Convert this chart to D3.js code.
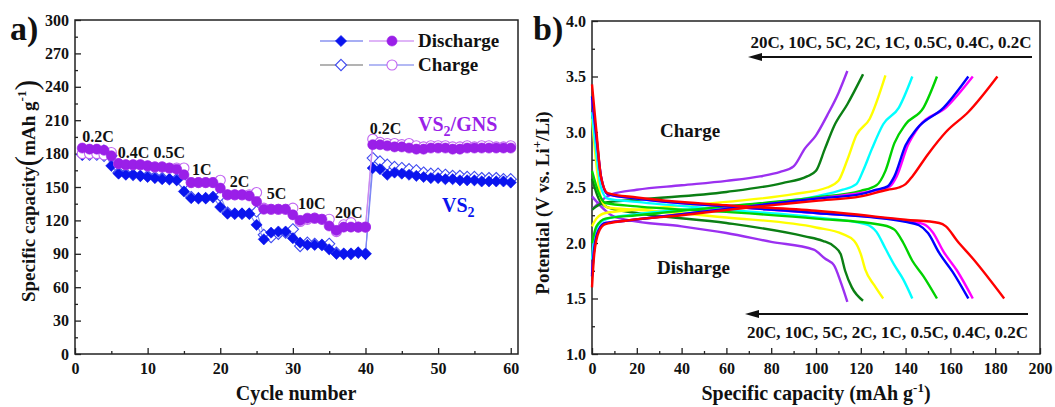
<!DOCTYPE html>
<html>
<head>
<meta charset="utf-8">
<script src="https://cdn.jsdelivr.net/npm/d3@7"></script>
<style>
  body { margin: 0; background: #fff; }
  svg text { font-family: "Liberation Serif", "Times New Roman", serif; font-weight: bold; }
</style>
</head>
<body>
<div id="chart"></div>
<script>
// ---- data: panel a (rate capability), one value per cycle starting at cycle 1
var gnsDischarge = [185,184,184,183,178, 171,170,170,170,169, 168,168,167,166,161,
  154,154,154,154,149, 143,143,143,142,137, 130,130,130,130,125, 120,122,122,121,115,
  111,114,114,114,114, 188,188,187,186,186, 185,184,184,185,185, 185,184,184,185,185,
  185,185,185,185,185];
var gnsCharge = [180,180,180,179,181, 171,170,170,170,169, 168,168,167,167,167,
  154,154,154,154,156, 143,143,143,143,145, 131,130,130,130,131, 119,121,122,121,121,
  110,116,118,114,114, 193,190,189,189,188, 189,187,186,187,187, 187,186,186,187,186,
  187,187,186,186,187];
var vs2Discharge = [179,181,181,183,169, 162,161,161,160,159, 158,157,157,156,146,
  140,140,140,141,132, 126,126,126,126,116, 103,109,110,110,104, 100,98,98,98,94,
  90,90,90,91,90, 167,166,161,163,162, 161,160,159,158,158, 157,157,156,156,156,
  155,155,155,155,154];
var vs2Charge = [179,179,179,178,178, 163,162,161,160,160, 159,158,157,157,153,
  141,140,140,141,142, 127,126,126,126,128, 107,105,108,109,112, 97,100,99,98,99,
  91,90,90,91,90, 176,173,170,168,167, 166,165,163,162,162, 161,160,160,159,159,
  158,158,158,157,157];

var rateLabels = ["0.2C","0.4C","0.5C","1C","2C","5C","10C","20C","0.2C"];
var rateLabelCycle = [1.0, 5.9, 10.8, 16.1, 21.3, 26.4, 30.7, 35.8, 40.6];
var rateLabelValue = [190, 176, 176, 161, 150, 139, 130, 122, 198];

// ---- data: panel b (charge/discharge profiles), [capacity, potential]
var profileRates = ["0.2C","0.4C","0.5C","1C","2C","5C","10C","20C"];
var profileColors = ["#ff0000","#ff00ff","#0000ff","#00d200","#00ffff","#ffff00","#0b7f14","#9b30f0"];
var dischargeCurves = [
  [[0,3.43],[2,3.0],[4,2.6],[7,2.45],[20,2.41],[60,2.34],[100,2.29],[140,2.21],[155,2.18],[158,2.15],[163,2.02],[170,1.86],[184,1.5]],
  [[0,3.3],[2,2.95],[4,2.6],[7,2.44],[20,2.4],[60,2.33],[100,2.27],[140,2.2],[148,2.17],[152,2.1],[157,1.92],[163,1.75],[170,1.5]],
  [[0,3.32],[2,2.95],[4,2.6],[7,2.44],[20,2.4],[60,2.33],[100,2.27],[140,2.19],[146,2.16],[150,2.09],[155,1.91],[161,1.74],[168,1.5]],
  [[0,2.65],[3,2.45],[6,2.36],[20,2.33],[60,2.28],[100,2.22],[130,2.16],[135,2.12],[139,2.0],[143,1.84],[148,1.7],[154,1.5]],
  [[0,3.18],[2,2.8],[4,2.5],[7,2.4],[20,2.37],[60,2.3],[100,2.23],[122,2.17],[127,2.1],[131,1.95],[135,1.8],[139,1.67],[143,1.5]],
  [[0,3.12],[2,2.7],[4,2.4],[7,2.32],[20,2.3],[60,2.23],[100,2.14],[112,2.08],[117,2.02],[120,1.9],[122,1.76],[126,1.62],[130,1.5]],
  [[0,2.58],[3,2.4],[7,2.32],[20,2.27],[60,2.18],[95,2.06],[103,2.02],[108,1.97],[111,1.9],[113,1.75],[116,1.6],[121,1.48]],
  [[0,2.42],[4,2.33],[8,2.26],[15,2.21],[40,2.15],[60,2.09],[80,2.01],[99,1.94],[104,1.86],[108,1.8],[111,1.65],[114,1.47]]
];
var chargeCurves = [
  [[0,1.6],[1,1.9],[3,2.1],[6,2.17],[15,2.2],[40,2.25],[70,2.32],[100,2.38],[120,2.42],[132,2.48],[137,2.5],[140,2.53],[143,2.6],[150,2.8],[158,3.0],[168,3.18],[181,3.5]],
  [[0,1.72],[1,1.95],[3,2.12],[6,2.18],[15,2.2],[40,2.26],[70,2.33],[100,2.4],[120,2.45],[128,2.48],[133,2.51],[136,2.6],[141,2.88],[146,3.05],[158,3.22],[170,3.5]],
  [[0,1.7],[1,1.95],[3,2.12],[6,2.18],[15,2.2],[40,2.26],[70,2.33],[100,2.4],[120,2.44],[127,2.48],[132,2.51],[135,2.6],[140,2.88],[145,3.03],[157,3.22],[168,3.5]],
  [[0,2.0],[2,2.15],[6,2.22],[20,2.25],[60,2.33],[100,2.41],[120,2.47],[127,2.52],[131,2.65],[135,2.9],[140,3.07],[148,3.22],[154,3.5]],
  [[0,1.85],[1,2.05],[3,2.17],[7,2.22],[20,2.26],[60,2.33],[100,2.42],[112,2.48],[118,2.53],[121,2.65],[125,2.85],[130,3.07],[137,3.22],[143,3.5]],
  [[0,2.15],[2,2.22],[6,2.27],[20,2.3],[60,2.37],[90,2.44],[105,2.5],[110,2.56],[114,2.75],[118,2.97],[124,3.12],[131,3.51]],
  [[0,2.3],[5,2.36],[20,2.39],[60,2.46],[85,2.54],[96,2.6],[100,2.65],[104,2.85],[108,3.05],[114,3.25],[121,3.52]],
  [[0,2.3],[4,2.38],[9,2.44],[20,2.48],[40,2.52],[60,2.56],[75,2.6],[84,2.64],[90,2.69],[95,2.85],[100,2.97],[105,3.15],[110,3.35],[114,3.55]]
];
var drawOrder = [7,6,5,4,3,1,2,0];

var purple = "#9a1fe8", blue = "#0a14ee";

var svg = d3.select("#chart").append("svg")
  .attr("width", 1055).attr("height", 407);

// ---------- panel a ----------
var x = d3.scaleLinear().domain([0, 61]).range([75, 518]);
var y = d3.scaleLinear().domain([0, 300]).range([354, 20]);

var gA = svg.append("g");

function axisStyle(g) {
  g.selectAll("path").remove();
  g.selectAll("line").attr("stroke", "#222").attr("stroke-width", 1.3);
  g.selectAll("text").attr("font-size", 16).attr("fill", "#111");
}

gA.append("g").attr("transform", "translate(0,354)")
  .call(d3.axisBottom(x).tickValues(d3.range(0, 61, 10)).tickSizeInner(-6).tickPadding(9))
  .call(axisStyle);
gA.append("g").attr("transform", "translate(0,354)")
  .call(d3.axisBottom(x).tickValues(d3.range(5, 61, 10)).tickSizeInner(-3).tickFormat(""))
  .call(axisStyle);
gA.append("g").attr("transform", "translate(75,0)")
  .call(d3.axisLeft(y).tickValues(d3.range(0, 301, 30)).tickSizeInner(-6).tickPadding(6))
  .call(axisStyle);
gA.append("g").attr("transform", "translate(75,0)")
  .call(d3.axisLeft(y).tickValues(d3.range(15, 300, 30)).tickSizeInner(-3).tickFormat(""))
  .call(axisStyle);

gA.append("rect").attr("x", 75).attr("y", 20).attr("width", 443).attr("height", 334)
  .attr("fill", "none").attr("stroke", "#222").attr("stroke-width", 1.5);

var series = [
  {vals: vs2Charge, line: "#8a93f0", color: "#3f4af0", shape: "diamond", open: true},
  {vals: vs2Discharge, line: "#7d86f5", color: blue, shape: "diamond", open: false},
  {vals: gnsCharge, line: "#d09af5", color: "#c266f2", shape: "circle", open: true},
  {vals: gnsDischarge, line: "#c98af0", color: purple, shape: "circle", open: false}
];

var sym = {diamond: "M0,-5.6L5.6,0L0,5.6L-5.6,0Z",
           circle: d3.symbol().type(d3.symbolCircle).size(80)()};

series.forEach(function(s) {
  gA.append("path").datum(s.vals)
    .attr("fill", "none").attr("stroke", s.line).attr("stroke-width", 1.2)
    .attr("d", d3.line().x(function(d, i) { return x(i + 1); }).y(function(d) { return y(d); }));
  gA.append("g").selectAll("path").data(s.vals).enter().append("path")
    .attr("transform", function(d, i) { return "translate(" + x(i + 1) + "," + y(d) + ")"; })
    .attr("d", sym[s.shape])
    .attr("fill", s.open ? "#fff" : s.color)
    .attr("stroke", s.color).attr("stroke-width", s.open ? 1.1 : 0.6);
});

gA.selectAll(".rate").data(rateLabels).enter().append("text")
  .attr("x", function(d, i) { return x(rateLabelCycle[i]); })
  .attr("y", function(d, i) { return y(rateLabelValue[i]); })
  .attr("font-size", 16).attr("fill", "#111").text(function(d) { return d; });

var t1 = gA.append("text").attr("x", 418).attr("y", 131).attr("font-size", 20).attr("fill", purple);
t1.append("tspan").text("VS");
t1.append("tspan").attr("dy", 5).attr("font-size", 14).text("2");
t1.append("tspan").attr("dy", -5).text("/GNS");
var t2 = gA.append("text").attr("x", 442).attr("y", 212).attr("font-size", 20).attr("fill", blue);
t2.append("tspan").text("VS");
t2.append("tspan").attr("dy", 5).attr("font-size", 14).text("2");

// legend
var legendRows = [
  {label: "Discharge", y: 41, l1: "#8a93f0", l2: "#d49cf5", open: false},
  {label: "Charge", y: 65, l1: "#9a9a9a", l2: "#9aa2f0", open: true}
];
legendRows.forEach(function(r) {
  gA.append("line").attr("x1", 320).attr("x2", 363).attr("y1", r.y).attr("y2", r.y)
    .attr("stroke", r.l1).attr("stroke-width", 1.3);
  gA.append("line").attr("x1", 369).attr("x2", 414).attr("y1", r.y).attr("y2", r.y)
    .attr("stroke", r.l2).attr("stroke-width", 1.3);
  gA.append("path").attr("transform", "translate(341," + r.y + ")").attr("d", sym.diamond)
    .attr("fill", r.open ? "#fff" : blue).attr("stroke", r.open ? "#3f4af0" : blue).attr("stroke-width", r.open ? 1.1 : 0.6);
  gA.append("path").attr("transform", "translate(392," + r.y + ")").attr("d", sym.circle)
    .attr("fill", r.open ? "#fff" : purple).attr("stroke", r.open ? "#c266f2" : purple)
    .attr("stroke-width", r.open ? 1.1 : 0.6);
  gA.append("text").attr("x", 418).attr("y", r.y + 6).attr("font-size", 19).attr("fill", "#111").text(r.label);
});

gA.append("text").attr("x", 296).attr("y", 400).attr("text-anchor", "middle")
  .attr("font-size", 20).attr("fill", "#111").text("Cycle number");
var yl = gA.append("text").attr("transform", "translate(35,191) rotate(-90)")
  .attr("text-anchor", "middle").attr("font-size", 19).attr("fill", "#111");
yl.append("tspan").text("Specific capacity");
yl.append("tspan").attr("font-size", 32).attr("font-weight", "normal").attr("dy", 2).text("(");
yl.append("tspan").attr("dy", -2).text("mAh g");
yl.append("tspan").attr("dy", -9).attr("font-size", 13).text("-1");
yl.append("tspan").attr("dy", 11).attr("font-size", 32).attr("font-weight", "normal").text(")");

svg.append("text").attr("x", 10).attr("y", 40).attr("font-size", 34).attr("fill", "#111").text("a)");

// ---------- panel b ----------
var x2 = d3.scaleLinear().domain([0, 200]).range([592, 1040]);
var y2 = d3.scaleLinear().domain([1, 4]).range([354, 21]);
var gB = svg.append("g");

gB.append("g").attr("transform", "translate(0,354)")
  .call(d3.axisBottom(x2).tickValues(d3.range(0, 201, 20)).tickSizeInner(-6).tickPadding(9))
  .call(axisStyle);
gB.append("g").attr("transform", "translate(0,354)")
  .call(d3.axisBottom(x2).tickValues(d3.range(10, 200, 20)).tickSizeInner(-3).tickFormat(""))
  .call(axisStyle);
gB.append("g").attr("transform", "translate(592,0)")
  .call(d3.axisLeft(y2).tickValues(d3.range(1, 4.01, 0.5)).tickSizeInner(-6).tickPadding(6).tickFormat(d3.format(".1f")))
  .call(axisStyle);
gB.append("g").attr("transform", "translate(592,0)")
  .call(d3.axisLeft(y2).tickValues(d3.range(1.25, 4, 0.5)).tickSizeInner(-3).tickFormat(""))
  .call(axisStyle);

gB.append("rect").attr("x", 592).attr("y", 21).attr("width", 448).attr("height", 333)
  .attr("fill", "none").attr("stroke", "#222").attr("stroke-width", 1.5);

var curve = d3.line().curve(d3.curveMonotoneX)
  .x(function(d) { return x2(d[0]); }).y(function(d) { return y2(d[1]); });
drawOrder.forEach(function(k) {
  [chargeCurves[k], dischargeCurves[k]].forEach(function(c) {
    gB.append("path").datum(c).attr("fill", "none")
      .attr("stroke", profileColors[k]).attr("stroke-width", 2.4)
      .attr("stroke-linejoin", "round").attr("d", curve);
  });
});

gB.append("text").attr("x", 660).attr("y", 137).attr("font-size", 19).attr("fill", "#111").text("Charge");
gB.append("text").attr("x", 657).attr("y", 274).attr("font-size", 19).attr("fill", "#111").text("Disharge");

// rate-order arrows
var rateText = profileRates.slice().reverse().join(", ");
[{y: 57, ty: 48, x1: 1032, x2: 748}, {y: 314, ty: 338, x1: 1028, x2: 745}].forEach(function(a) {
  gB.append("line").attr("x1", a.x1).attr("x2", a.x2 + 10).attr("y1", a.y).attr("y2", a.y)
    .attr("stroke", "#111").attr("stroke-width", 1.8);
  gB.append("path")
    .attr("d", "M" + a.x2 + "," + a.y + "L" + (a.x2 + 14) + "," + (a.y - 4) + "L" + (a.x2 + 14) + "," + (a.y + 4) + "Z")
    .attr("fill", "#111");
  gB.append("text").attr("x", (a.x1 + a.x2) / 2 + 1).attr("y", a.ty).attr("text-anchor", "middle")
    .attr("font-size", 17).attr("fill", "#111").text(rateText);
});

var xl = gB.append("text").attr("x", 816).attr("y", 400).attr("text-anchor", "middle")
  .attr("font-size", 20).attr("fill", "#111");
xl.append("tspan").text("Specific capacity (mAh g");
xl.append("tspan").attr("dy", -8).attr("font-size", 13).text("-1");
xl.append("tspan").attr("dy", 8).text(")");
var yl2 = gB.append("text").attr("transform", "translate(549,203) rotate(-90)")
  .attr("text-anchor", "middle").attr("font-size", 19).attr("fill", "#111");
yl2.append("tspan").text("Potential (V vs. Li");
yl2.append("tspan").attr("dy", -8).attr("font-size", 13).text("+");
yl2.append("tspan").attr("dy", 8).text("/Li)");

svg.append("text").attr("x", 533).attr("y", 40).attr("font-size", 34).attr("fill", "#111").text("b)");
</script>
</body>
</html>
